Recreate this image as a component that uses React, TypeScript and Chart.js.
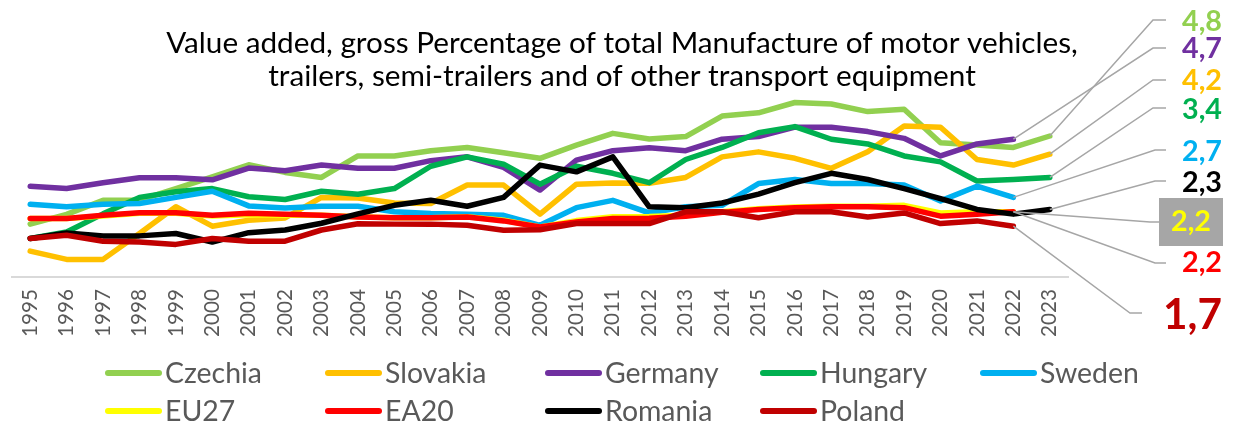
import React, { useEffect, useRef } from 'react';
import { Chart, registerables } from 'chart.js';

Chart.register(...registerables);

const years = ['1995','1996','1997','1998','1999','2000','2001','2002','2003','2004','2005','2006','2007','2008','2009','2010','2011','2012','2013','2014','2015','2016','2017','2018','2019','2020','2021','2022','2023'];

const czechia = [1.80,2.13,2.61,2.62,3.01,3.41,3.82,3.56,3.39,4.12,4.12,4.30,4.41,4.23,4.04,4.49,4.89,4.70,4.78,5.48,5.59,5.94,5.89,5.63,5.71,4.57,4.49,4.41,4.80];
const slovakia = [0.88,0.60,0.60,1.48,2.39,1.73,1.93,2.01,2.71,2.69,2.52,2.50,3.13,3.13,2.14,3.16,3.20,3.19,3.39,4.09,4.26,4.04,3.70,4.26,5.14,5.10,4.00,3.81,4.18];
const germany = [3.09,3.01,3.21,3.38,3.38,3.31,3.71,3.62,3.81,3.70,3.70,3.96,4.09,3.73,2.96,3.98,4.30,4.40,4.30,4.69,4.78,5.10,5.10,4.95,4.72,4.12,4.53,4.69,null];
const hungary = [1.31,1.53,2.15,2.71,2.90,3.01,2.73,2.64,2.92,2.82,3.01,3.77,4.09,3.84,3.16,3.77,3.53,3.21,4.00,4.41,4.91,5.12,4.69,4.53,4.12,3.92,3.27,3.32,3.39];
const sweden = [2.48,2.39,2.48,2.50,2.71,2.92,2.42,2.35,2.41,2.41,2.22,2.16,2.14,2.10,1.76,2.36,2.61,2.18,2.39,2.44,3.18,3.32,3.18,3.18,3.13,2.59,3.09,2.71,null];
const eu27 = [1.99,1.99,2.08,2.17,2.17,2.08,2.12,2.10,2.10,2.05,2.02,2.02,2.05,1.93,1.70,1.92,2.05,2.06,2.10,2.22,2.32,2.38,2.41,2.41,2.44,2.18,2.22,2.22,null];
const ea20 = [1.99,1.99,2.10,2.19,2.19,2.10,2.17,2.14,2.10,2.04,2.02,2.02,2.04,1.91,1.70,1.87,1.99,2.00,2.07,2.20,2.30,2.36,2.39,2.39,2.36,2.07,2.14,2.22,null];
const romania = [1.31,1.50,1.40,1.40,1.48,1.19,1.51,1.60,1.83,2.15,2.44,2.61,2.41,2.71,3.81,3.58,4.09,2.39,2.36,2.52,2.82,3.21,3.53,3.32,3.01,2.67,2.30,2.14,2.30];
const poland = [1.31,1.42,1.22,1.19,1.11,1.31,1.22,1.22,1.60,1.81,1.80,1.80,1.76,1.59,1.61,1.82,1.82,1.82,2.22,2.22,2.02,2.22,2.22,2.04,2.18,1.82,1.91,1.73,null];

const seriesNames = ['Czechia','Slovakia','Germany','Hungary','Sweden','EU27','EA20','Romania','Poland'];
const seriesColors = ['#92D050','#FFC000','#7030A0','#00B050','#00B0F0','#FFFF00','#FF0000','#000000','#C00000'];
const seriesData = [czechia, slovakia, germany, hungary, sweden, eu27, ea20, romania, poland];

const titleLines = [
  'Value added, gross Percentage of total Manufacture of motor vehicles,',
  'trailers, semi-trailers and of other transport equipment',
];

const FONT = 'Lato, "Open Sans", sans-serif';

// label placement (styling) per series index
const leaders: { ds: number; lineY: number; elbowX: number; endX: number; textY: number; big?: boolean; box?: boolean }[] = [
  { ds: 0, lineY: 20, elbowX: 1153, endX: 1166, textY: 22 },
  { ds: 2, lineY: 48, elbowX: 1153, endX: 1166, textY: 49 },
  { ds: 1, lineY: 80, elbowX: 1153, endX: 1166, textY: 81 },
  { ds: 3, lineY: 108, elbowX: 1153, endX: 1166, textY: 110 },
  { ds: 4, lineY: 150, elbowX: 1155, endX: 1166, textY: 152 },
  { ds: 7, lineY: 181, elbowX: 1155, endX: 1166, textY: 183 },
  { ds: 5, lineY: 222, elbowX: 1150, endX: 1159, textY: 222, box: true },
  { ds: 6, lineY: 263, elbowX: 1155, endX: 1166, textY: 263 },
  { ds: 8, lineY: 313, elbowX: 1130, endX: 1142, textY: 315, big: true },
];

const legendCols = [105, 325, 545, 760, 980];
const legendRows = [373, 411];

function fitSize(text: string, width: number, weight = 'normal') {
  const c = document.createElement('canvas').getContext('2d') as CanvasRenderingContext2D;
  c.font = `${weight} 100px ${FONT}`;
  return (100 * width) / c.measureText(text).width;
}

function lastIndex(arr: (number | null)[]) {
  let i = arr.length - 1;
  while (i >= 0 && arr[i] == null) i--;
  return i;
}

export default function App() {
  const ref = useRef<HTMLCanvasElement | null>(null);

  useEffect(() => {
    const canvas = ref.current;
    if (!canvas) return;
    const tickSize = fitSize('1995', 48);
    const legendSize = fitSize('Czechia', 97);
    const titleSize = fitSize(titleLines[0], 912);
    const labelSize = fitSize('4,8', 40, 'bold');
    const bigSize = fitSize('1,7', 59, 'bold');

    const decor = {
      id: 'decor',
      afterDatasetsDraw(chart: any) {
        const ctx: CanvasRenderingContext2D = chart.ctx;
        ctx.save();
        leaders.forEach((ld) => {
          const data = chart.data.datasets[ld.ds].data as (number | null)[];
          const li = lastIndex(data);
          const pt = chart.getDatasetMeta(ld.ds).data[li];
          ctx.strokeStyle = '#A6A6A6';
          ctx.lineWidth = 1.5;
          ctx.beginPath();
          ctx.moveTo(pt.x, pt.y);
          ctx.lineTo(ld.elbowX, ld.lineY);
          ctx.lineTo(ld.endX, ld.lineY);
          ctx.stroke();
        });
        leaders.forEach((ld) => {
          const data = chart.data.datasets[ld.ds].data as (number | null)[];
          const v = data[lastIndex(data)] as number;
          const txt = v.toFixed(1).replace('.', ',');
          ctx.textBaseline = 'middle';
          if (ld.box) {
            ctx.fillStyle = '#A6A6A6';
            ctx.fillRect(1159, 198, 64, 48);
            ctx.fillStyle = seriesColors[ld.ds];
            ctx.font = `bold ${labelSize}px ${FONT}`;
            ctx.textAlign = 'center';
            ctx.fillText(txt, 1191, ld.textY);
          } else {
            ctx.fillStyle = seriesColors[ld.ds];
            ctx.font = `bold ${ld.big ? bigSize : labelSize}px ${FONT}`;
            ctx.textAlign = 'right';
            ctx.fillText(txt, 1222, ld.textY);
          }
        });
        ctx.restore();
      },
      afterDraw(chart: any) {
        const ctx: CanvasRenderingContext2D = chart.ctx;
        ctx.save();
        // title
        ctx.fillStyle = '#000000';
        ctx.font = `${titleSize}px ${FONT}`;
        ctx.textAlign = 'center';
        ctx.textBaseline = 'middle';
        ctx.fillText(titleLines[0], 622, 43);
        ctx.fillText(titleLines[1], 622, 76);
        // legend
        ctx.font = `${legendSize}px ${FONT}`;
        ctx.textAlign = 'left';
        seriesNames.forEach((name, i) => {
          const row = i < 5 ? 0 : 1;
          const col = i < 5 ? i : i - 5;
          const x = legendCols[col];
          const y = legendRows[row];
          ctx.strokeStyle = seriesColors[i];
          ctx.lineWidth = 6;
          ctx.lineCap = 'round';
          ctx.beginPath();
          ctx.moveTo(x + 3, y);
          ctx.lineTo(x + 54, y);
          ctx.stroke();
          ctx.fillStyle = '#595959';
          ctx.fillText(name, x + 60, y + 1);
        });
        ctx.restore();
      },
    };

    const chart = new Chart(canvas, {
      type: 'line',
      data: {
        labels: years,
        datasets: seriesNames.map((name, i) => ({
          label: name,
          data: seriesData[i],
          borderColor: seriesColors[i],
          backgroundColor: seriesColors[i],
          borderWidth: 5.5,
          pointRadius: 0,
          pointHoverRadius: 0,
          tension: 0,
          fill: false,
          order: seriesNames.length - 1 - i,
          borderJoinStyle: 'round',
          borderCapStyle: 'round',
        })) as any,
      },
      options: {
        responsive: false,
        animation: false,
        events: [],
        layout: { padding: { left: 12, right: 175, top: 42, bottom: 87 } },
        plugins: {
          legend: { display: false },
          tooltip: { enabled: false },
          title: { display: false },
        },
        scales: {
          x: {
            offset: true,
            grid: { display: false, drawTicks: false },
            border: { display: true, color: '#D9D9D9', width: 2 },
            ticks: {
              autoSkip: false,
              minRotation: 90,
              maxRotation: 90,
              color: '#595959',
              font: { family: FONT, size: tickSize },
              padding: 12,
            },
            afterFit: (s: any) => {
              s.height = 60;
            },
          },
          y: { display: false, min: 0, max: 8 },
        },
      } as any,
      plugins: [decor],
    });
    return () => chart.destroy();
  }, []);

  return (
    <div style={{ position: 'fixed', left: 0, top: 0, width: 1243, height: 424, background: '#fff' }}>
      <canvas ref={ref} width={1243} height={424} style={{ width: 1243, height: 424, display: 'block' }} />
    </div>
  );
}
